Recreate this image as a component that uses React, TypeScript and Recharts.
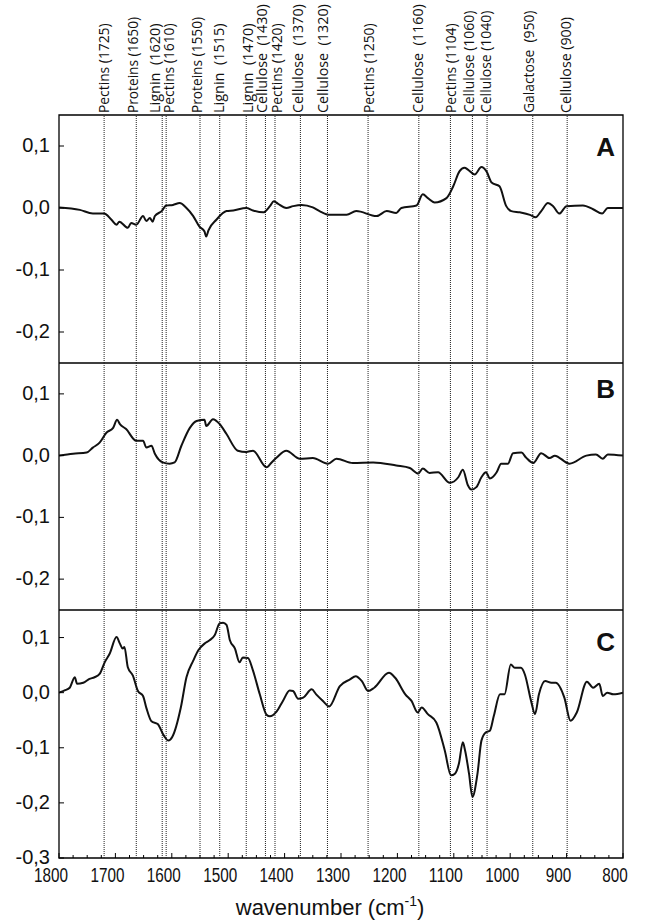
import React from "react";
import {
  LineChart,
  Line,
  XAxis,
  YAxis,
  ReferenceLine,
  ReferenceArea,
  ReferenceDot,
} from "recharts";

// x axis ticks (minor every 25, labelled every 100)
const xTicks = [
  1800, 1775, 1750, 1725, 1700, 1675, 1650, 1625, 1600, 1575, 1550, 1525, 1500,
  1475, 1450, 1425, 1400, 1375, 1350, 1325, 1300, 1275, 1250, 1225, 1200, 1175,
  1150, 1125, 1100, 1075, 1050, 1025, 1000, 975, 950, 925, 900, 875, 850, 825,
  800,
];
const xLabels = [1800, 1700, 1600, 1500, 1400, 1300, 1200, 1100, 1000, 900, 800];
const yTicksAB = [0.1, 0, -0.1, -0.2];
const yTicksC = [0.1, 0, -0.1, -0.2, -0.3];

// band assignments
const bandNames = [
  "Pectins (1725)",
  "Proteins (1650)",
  "Lignin  (1620)",
  "Pectins (1610)",
  "Proteins (1550)",
  "Lignin  (1515)",
  "Lignin  (1470)",
  "Cellulose  (1430)",
  "Pectins (1420)",
  "Cellulose  (1370)",
  "Cellulose  (1320)",
  "Pectins (1250)",
  "Cellulose  (1160)",
  "Pectins (1104)",
  "Cellulose (1060)",
  "Cellulose (1040)",
  "Galactose  (950)",
  "Cellulose (900)",
];
const bandLines = [
  1720, 1663, 1617, 1610, 1550, 1515, 1468, 1434, 1417, 1372, 1324, 1252, 1162,
  1106, 1067, 1041, 960, 899,
];
const bandLabelPos = [
  1721, 1669, 1630, 1605, 1556, 1518, 1466, 1441, 1415, 1377, 1332, 1252, 1165,
  1106, 1074, 1044, 968, 902,
];

// spectrum A
const aWn = [
  1800, 1763, 1740, 1720, 1707, 1698, 1693, 1678, 1672, 1663, 1651, 1645, 1639,
  1634, 1630, 1618, 1610, 1598, 1586, 1574, 1562, 1551, 1542, 1539, 1535, 1521,
  1503, 1491, 1468, 1456, 1438, 1426, 1419, 1412, 1397, 1385, 1370, 1350, 1338,
  1320, 1290, 1273, 1237, 1219, 1202, 1193, 1166, 1155, 1146, 1134, 1113, 1101,
  1090, 1081, 1075, 1063, 1051, 1042, 1033, 1019, 1007, 998, 983, 965, 955, 945,
  933, 924, 913, 900, 871, 853, 837, 827, 800,
];
const aVal = [
  0.001, -0.003, -0.009, -0.009, -0.019, -0.027, -0.022, -0.032, -0.024, -0.027,
  -0.013, -0.021, -0.016, -0.022, -0.013, -0.005, 0.004, 0.005, 0.008, 0.0,
  -0.013, -0.03, -0.038, -0.046, -0.036, -0.019, -0.005, -0.004, 0.0, -0.004,
  -0.007, 0.003, 0.011, 0.007, 0.0, 0.003, 0.005, 0.001, -0.005, -0.011, -0.011,
  -0.005, -0.013, -0.005, -0.008, 0.0, 0.004, 0.022, 0.016, 0.009, 0.016, 0.035,
  0.059, 0.065, 0.062, 0.054, 0.066, 0.059, 0.041, 0.035, 0.003, -0.005, -0.007,
  -0.011, -0.015, -0.005, 0.008, 0.003, -0.009, 0.003, 0.004, -0.002, -0.009,
  0.0, 0.0,
];

// spectrum B
const bWn = [
  1800, 1775, 1751, 1740, 1728, 1716, 1704, 1697, 1692, 1681, 1663, 1651, 1645,
  1636, 1630, 1616, 1604, 1595, 1583, 1568, 1556, 1542, 1539, 1527, 1515, 1503,
  1483, 1468, 1456, 1432, 1423, 1414, 1397, 1373, 1350, 1323, 1308, 1279, 1243,
  1202, 1178, 1163, 1155, 1143, 1128, 1107, 1092, 1084, 1075, 1069, 1060, 1051,
  1043, 1036, 1024, 1016, 1004, 995, 980, 972, 959, 945, 930, 921, 895, 865, 848,
  836, 827, 800,
];
const bVal = [
  0.0, 0.003, 0.005, 0.013, 0.021, 0.037, 0.045, 0.058, 0.051, 0.043, 0.024,
  0.024, 0.013, 0.016, 0.003, -0.011, -0.013, -0.011, 0.016, 0.045, 0.056, 0.058,
  0.048, 0.059, 0.051, 0.035, 0.008, 0.006, 0.008, -0.019, -0.011, -0.003, 0.008,
  -0.005, -0.004, -0.013, -0.005, -0.012, -0.011, -0.016, -0.02, -0.029, -0.021,
  -0.028, -0.027, -0.044, -0.035, -0.023, -0.048, -0.055, -0.051, -0.035, -0.027,
  -0.037, -0.027, -0.013, -0.013, 0.004, 0.005, -0.003, -0.012, 0.004, -0.004,
  0.0, -0.013, 0.0, 0.002, -0.005, 0.002, 0.0,
];

// spectrum C
const cWn = [
  1800, 1790, 1781, 1772, 1768, 1757, 1746, 1737, 1728, 1719, 1710, 1698, 1692,
  1687, 1684, 1678, 1669, 1660, 1651, 1645, 1636, 1625, 1614, 1606, 1599, 1584,
  1574, 1562, 1553, 1542, 1533, 1524, 1515, 1509, 1503, 1497, 1488, 1480, 1474,
  1465, 1456, 1444, 1432, 1426, 1414, 1403, 1391, 1385, 1376, 1367, 1352, 1344,
  1332, 1321, 1302, 1284, 1274, 1263, 1252, 1241, 1215, 1204, 1186, 1175, 1164,
  1157, 1146, 1131, 1116, 1105, 1098, 1091, 1084, 1080, 1073, 1067, 1058, 1051,
  1043, 1036, 1029, 1018, 1010, 999, 992, 981, 974, 963, 956, 949, 938, 927, 919,
  904, 893, 882, 864, 853, 842, 836, 828, 817, 800,
];
const cVal = [
  0.0, 0.004, 0.009, 0.028, 0.016, 0.018, 0.025, 0.028, 0.034, 0.055, 0.071,
  0.101, 0.089, 0.08, 0.083, 0.046, 0.031, 0.003, -0.006, -0.028, -0.052, -0.057,
  -0.078, -0.087, -0.08, -0.027, 0.028, 0.058, 0.077, 0.089, 0.095, 0.104, 0.126,
  0.127, 0.123, 0.095, 0.08, 0.055, 0.064, 0.063, 0.04, -0.003, -0.04, -0.043,
  -0.034, -0.015, 0.004, 0.003, -0.011, -0.009, 0.006, -0.003, -0.015, -0.025,
  0.012, 0.024, 0.03, 0.021, 0.003, 0.009, 0.036, 0.027, -0.003, -0.015, -0.036,
  -0.027, -0.039, -0.054, -0.105, -0.15, -0.147, -0.129, -0.09, -0.105, -0.147,
  -0.189, -0.147, -0.087, -0.072, -0.069, -0.042, -0.003, -0.003, 0.051, 0.045,
  0.045, 0.033, -0.015, -0.039, -0.003, 0.021, 0.018, 0.018, -0.009, -0.051,
  -0.036, 0.02, 0.009, 0.016, -0.006, 0.0, -0.003, 0.0,
];

const ARIAL = "'Liberation Sans', Arial, sans-serif";
const fmtY = (v: number) => v.toFixed(1).replace(".", ",");

function XTick(props: any) {
  const { x, y, payload, showLabel } = props;
  const v = payload.value;
  const major = xLabels.includes(v);
  const txt = String(v);
  return (
    <g>
      <line x1={x} x2={x} y1={y} y2={y - (major ? 5 : 3)} stroke="#000" />
      {showLabel && major && (
        <text
          x={x - 8}
          y={y + 17}
          textAnchor="middle"
          dominantBaseline="central"
          fontSize={20}
          fontFamily={ARIAL}
          fill="#111"
          textLength={txt.length * 8.5}
          lengthAdjust="spacingAndGlyphs"
        >
          {txt}
        </text>
      )}
    </g>
  );
}

function YTick(props: any) {
  const { x, y, payload } = props;
  return (
    <g>
      <line x1={x} x2={x + 5} y1={y} y2={y} stroke="#000" />
      <text
        x={x - 9}
        y={y - 1}
        textAnchor="end"
        dominantBaseline="central"
        fontSize={20}
        fontFamily={ARIAL}
        fill="#111"
      >
        {fmtY(payload.value)}
      </text>
    </g>
  );
}

function BandLabel(props: any) {
  const { viewBox, text } = props;
  return (
    <text
      transform={`translate(${viewBox.x},${viewBox.y - 2}) rotate(-90)`}
      textAnchor="start"
      dominantBaseline="central"
      fontSize={14}
      fontFamily="'Open Sans', sans-serif"
      fill="#111"
      textLength={text.length * 6.4}
      lengthAdjust="spacingAndGlyphs"
      style={{ whiteSpace: "pre" }}
    >
      {text}
    </text>
  );
}

function Letter(props: any) {
  const { viewBox, text } = props;
  return (
    <text
      x={viewBox.x}
      y={viewBox.y}
      textAnchor="middle"
      fontSize={26}
      fontWeight="bold"
      fontFamily={ARIAL}
      fill="#111"
    >
      {text}
    </text>
  );
}

function XTitle(props: any) {
  const { viewBox } = props;
  return (
    <text
      x={viewBox.x + viewBox.width / 2 - 11}
      y={viewBox.y + 57}
      textAnchor="middle"
      fontSize={22}
      fontFamily={ARIAL}
      fill="#111"
    >
      wavenumber (cm
      <tspan dy={-9} fontSize={14}>
        -1
      </tspan>
      <tspan dy={9}>)</tspan>
    </text>
  );
}

interface PanelProps {
  wn: number[];
  val: number[];
  domain: [number, number];
  ticks: number[];
  height: number;
  top: number;
  bottom: number;
  letter: string;
  letterY: number;
  showBands?: boolean;
  showLabels?: boolean;
}

function Panel({
  wn,
  val,
  domain,
  ticks,
  height,
  top,
  bottom,
  letter,
  letterY,
  showBands,
  showLabels,
}: PanelProps) {
  const data = wn.map((w, i) => ({ w, v: val[i] }));
  return (
    <LineChart
      width={646}
      height={height}
      data={data}
      margin={{ top, right: 23, bottom: 0, left: 0 }}
    >
      <XAxis
        dataKey="w"
        type="number"
        domain={[800, 1800]}
        reversed
        allowDataOverflow
        ticks={xTicks}
        interval={0}
        tickSize={0}
        tickMargin={0}
        tickLine={false}
        axisLine={false}
        height={bottom}
        tick={<XTick showLabel={showLabels} />}
        label={showLabels ? <XTitle /> : undefined}
      />
      <YAxis
        type="number"
        domain={domain}
        allowDataOverflow
        ticks={ticks}
        interval={0}
        width={59}
        tickSize={0}
        tickMargin={0}
        tickLine={false}
        axisLine={false}
        tick={<YTick />}
      />
      {bandLines.map((b, i) => (
        <ReferenceLine
          key={"b" + i}
          x={b}
          stroke="#222"
          strokeWidth={1}
          strokeDasharray="1 1"
        />
      ))}
      {showBands &&
        bandLabelPos.map((p, i) => (
          <ReferenceLine
            key={"l" + i}
            x={p}
            stroke="none"
            label={<BandLabel text={bandNames[i]} />}
          />
        ))}
      <ReferenceArea
        x1={1800}
        x2={800}
        y1={domain[1]}
        y2={domain[0]}
        fill="none"
        stroke="#000"
        strokeWidth={1.3}
      />
      <ReferenceDot
        x={831}
        y={letterY}
        r={0}
        fill="none"
        stroke="none"
        label={<Letter text={letter} />}
      />
      <Line
        dataKey="v"
        type="monotone"
        stroke="#111"
        strokeWidth={2}
        dot={false}
        isAnimationActive={false}
      />
    </LineChart>
  );
}

export default function App() {
  return (
    <div
      style={{
        position: "absolute",
        left: 0,
        top: 0,
        width: 646,
        height: 920,
        background: "#fff",
      }}
    >
      <Panel
        wn={aWn}
        val={aVal}
        domain={[-0.25, 0.15]}
        ticks={yTicksAB}
        height={363}
        top={115}
        bottom={0}
        letter="A"
        letterY={0.084}
        showBands
      />
      <Panel
        wn={bWn}
        val={bVal}
        domain={[-0.25, 0.15]}
        ticks={yTicksAB}
        height={247}
        top={0}
        bottom={0}
        letter="B"
        letterY={0.093}
      />
      <Panel
        wn={cWn}
        val={cVal}
        domain={[-0.3, 0.15]}
        ticks={yTicksC}
        height={310}
        top={0}
        bottom={62}
        letter="C"
        letterY={0.076}
        showLabels
      />
    </div>
  );
}
